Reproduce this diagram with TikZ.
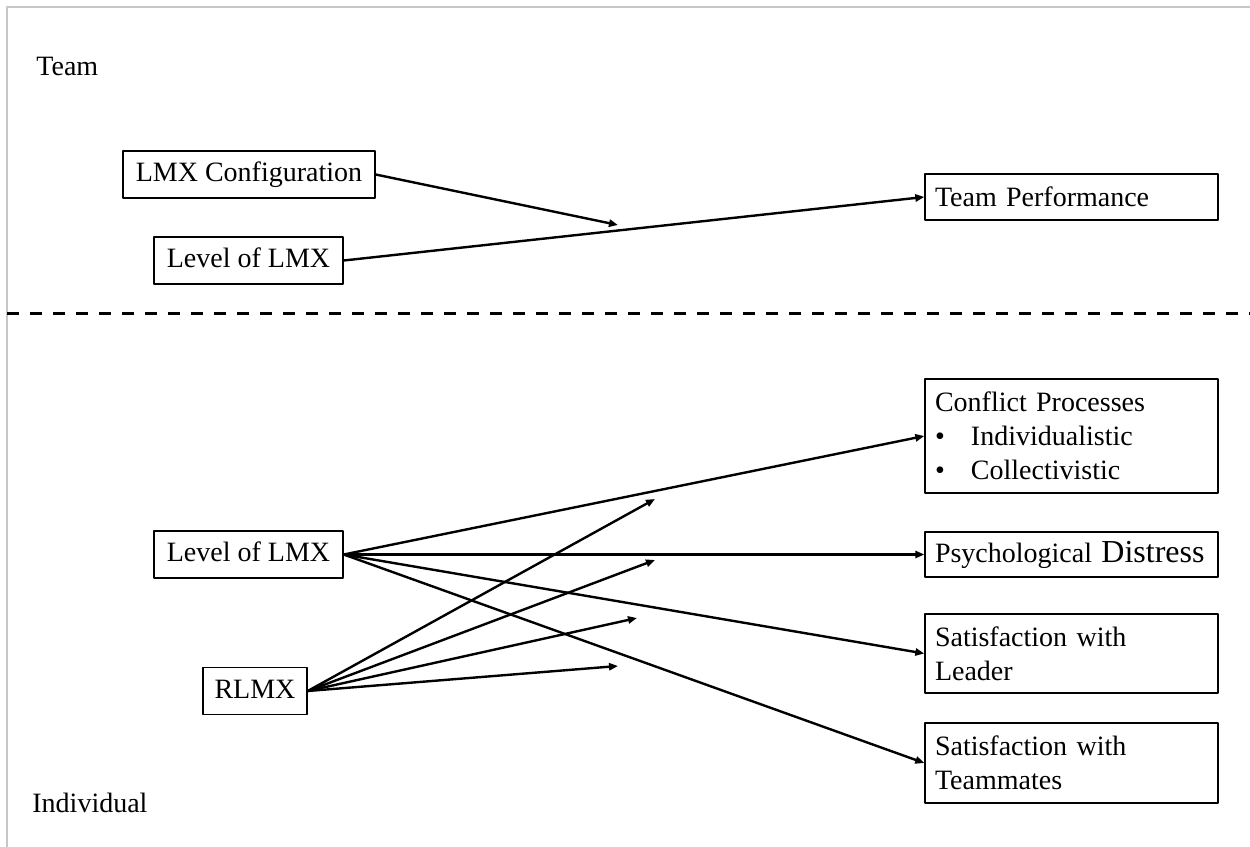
\documentclass[tikz,border=0pt]{standalone}
\usepackage{fontspec}
\setmainfont{Liberation Serif}
\usetikzlibrary{arrows.meta}
\begin{document}
\begin{tikzpicture}[line join=round,line cap=round,>={Triangle[length=4.5pt,width=3.6pt]},x=0.5pt,y=-0.5pt]
	\tikzset{lbox/.style={draw,line width=0.7pt,inner sep=0pt,minimum height=23.5pt,text height=10pt,text depth=3pt,font=\fontsize{14}{17}\selectfont},
		rbox/.style={draw,line width=0.7pt,inner xsep=5pt,inner ysep=0pt,text width=136.5pt,align=left,font=\fontsize{14}{17}\selectfont},
		lvl/.style={inner sep=0pt,anchor=base west,font=\fontsize{14}{17}\selectfont},
		arr/.style={->,line width=1.2pt}}
	\useasboundingbox (0,0) rectangle (1250,847);
	% Khung (xám)
	\draw[black!22,line width=0.6pt] (7,847)--(7,7)--(1250,7);
	% Nhãn mức
	\node[lvl] (team) at (36,75) {Team};
	\node[lvl] (indiv) at (32,812) {Individual};
	% Đường phân cách
	\draw[line width=1.5pt,line cap=butt,dash pattern=on 6pt off 5.5pt] (7,313)--(1250,313);
	% Các hộp bên trái
	\node[lbox,minimum width=126pt] (cfg) at (249,174.5) {LMX Configuration};
	\node[lbox,minimum width=94.5pt] (lvlT) at (248.5,260.5) {Level of LMX};
	\node[lbox,minimum width=94.5pt] (lvlI) at (248.5,554.5) {Level of LMX};
	\node[lbox,minimum width=52pt] (rlmx) at (255,691) {RLMX};
	% Các hộp bên phải
	\node[rbox,minimum height=23pt] (perf) at (1071.5,197) {Team Performance};
	\node[rbox,minimum height=57pt] (conf) at (1071.5,436) {Conflict Processes\\
		\makebox[18pt][l]{\textbullet}Individualistic\\
		\makebox[18pt][l]{\textbullet}Collectivistic};
	\node[rbox,minimum height=22.5pt] (dist) at (1071.5,554.5) {Psychological {\fontsize{16}{17}\selectfont Distress}};
	\node[rbox,minimum height=39.5pt] (leader) at (1071.5,653.5) {Satisfaction with\\Leader};
	\node[rbox,minimum height=40pt] (mates) at (1071.5,763) {Satisfaction with\\Teammates};
	% Điểm tác động (điều tiết)
	\coordinate (mT) at (618,225);
	\coordinate (m1) at (655,499);
	\coordinate (m2) at (655,560);
	\coordinate (m3) at (637,618);
	\coordinate (m4) at (618,666);
	% Mũi tên cấp nhóm
	\draw[arr] (lvlT.east)--(perf.west);
	\draw[arr] (cfg.east)--(mT);
	% Mũi tên cấp cá nhân
	\foreach \t in {conf,dist,leader,mates}
		\draw[arr] (lvlI.east)--(\t.west);
	\foreach \m in {m1,m2,m3,m4}
		\draw[arr] (rlmx.east)--(\m);
\end{tikzpicture}
\end{document}
